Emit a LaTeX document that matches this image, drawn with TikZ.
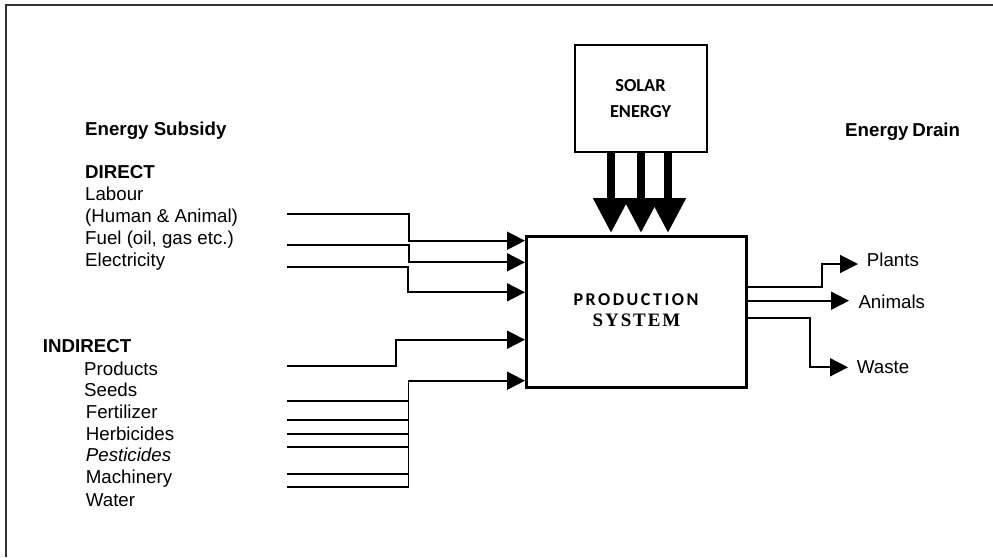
\documentclass[tikz,border=0pt]{standalone}
\usepackage{fontspec}
\setmainfont{Liberation Sans}
\newfontfamily\calibfont{Carlito}
\newfontfamily\prodfont[LetterSpace=14]{Carlito}
\newfontfamily\sysfont[LetterSpace=10]{Liberation Serif}
\usetikzlibrary{arrows.meta}
\tikzset{
  lbl/.style={anchor=base west, inner sep=0pt, font=\fontsize{18.7}{22}\selectfont},
  wire/.style={line width=1.8pt, -{Triangle[length=18pt,width=18pt]}},
  plainwire/.style={line width=1.8pt},
  sunarrow/.style={line width=8pt, -{Triangle[length=35pt,width=34pt]}},
}
\begin{document}
\begin{tikzpicture}[x=1pt,y=-1pt]
\useasboundingbox (0,0) rectangle (993,557);
% frame (top and left only)
\draw[line width=2pt,black!80] (993,5) -- (6,5) -- (6,557);

% boxes
\node[draw, line width=3pt, minimum width=220pt, minimum height=151pt, inner sep=0pt] (prod) at (636,311.5) {};
\node[draw, line width=2.5pt, minimum width=132pt, minimum height=107pt, inner sep=0pt] (solar) at (641,98.5) {};
\node[anchor=base, inner sep=0pt, font=\calibfont\bfseries\fontsize{18.3}{22}\selectfont] (solar1) at (640.5,91) {SOLAR};
\node[anchor=base, inner sep=0pt, font=\calibfont\bfseries\fontsize{18.3}{22}\selectfont] (solar2) at (640.5,117.3) {ENERGY};
\node[anchor=base, inner sep=0pt, font=\prodfont\bfseries\fontsize{18}{22}\selectfont] (prod1) at (636,305) {PRODUCTION};
\node[anchor=base, inner sep=0pt, font=\sysfont\bfseries\fontsize{19}{22}\selectfont] (prod2) at (636.5,326.7) {SYSTEM};

% solar arrows
\draw[sunarrow] ([xshift=-30pt]solar.south) -- ([xshift=-25pt,yshift=1.5pt]prod.north);
\draw[sunarrow] ([xshift=0pt]solar.south) -- ([xshift=5pt,yshift=1.5pt]prod.north);
\draw[sunarrow] ([xshift=27pt]solar.south) -- ([xshift=32pt,yshift=1.5pt]prod.north);

% left labels
\node[lbl, font=\bfseries\fontsize{18.7}{22}\selectfont] (subsidy) at (85,135.5) {Energy Subsidy};
\node[lbl, font=\bfseries\fontsize{18.7}{22}\selectfont] (direct) at (85,178) {DIRECT};
\node[lbl] (labour) at (85,200.7) {Labour};
\node[lbl] (human) at (85,222.7) {(Human \& Animal)};
\node[lbl] (fuel) at (85,244.3) {Fuel (oil, gas etc.)};
\node[lbl] (elec) at (85,266) {Electricity};
\node[lbl, font=\bfseries\fontsize{18.7}{22}\selectfont] (indirect) at (42.7,352.7) {INDIRECT};
\node[lbl] (products) at (84,375) {Products};
\node[lbl] (seeds) at (84,396.7) {Seeds};
\node[lbl] (fert) at (85.7,418.3) {Fertilizer};
\node[lbl] (herb) at (85.7,440) {Herbicides};
\node[lbl, font=\itshape\fontsize{18.7}{22}\selectfont] (pest) at (85.7,461.7) {Pesticides};
\node[lbl] (mach) at (85.7,483.5) {Machinery};
\node[lbl] (water) at (85.7,506) {Water};

% right labels
\node[lbl, font=\bfseries\fontsize{18.7}{22}\selectfont] (drain) at (845,136) {Energy\hspace{-1.5pt} Drain};
\node[lbl] (plants) at (866.7,266) {Plants};
\node[lbl] (animals) at (858.3,308.3) {Animals};
\node[lbl] (waste) at (856.7,373.3) {Waste};

% input wire ends
\coordinate (w1) at (287,214.3);
\coordinate (w2) at (287,245);
\coordinate (w3) at (287,267.3);
\coordinate (w4) at (287,366);
\coordinate (b1) at (287,401);
\coordinate (b2) at (287,420.3);
\coordinate (b3) at (287,433.7);
\coordinate (b4) at (287,447.3);
\coordinate (b5) at (287,474.3);
\coordinate (b6) at (287,486.7);
\coordinate (bus) at (408.5,486.7);
% entry points on production box
\coordinate (e1) at (525,240.7);
\coordinate (e2) at (525,262.3);
\coordinate (e3) at (525,292.3);
\coordinate (e4) at (525,339.7);
\coordinate (e5) at (525,380.7);

\draw[wire] (w1) -- (409,214.3) |- (e1);
\draw[wire] (w2) -- (409,245) |- (e2);
\draw[wire] (w3) -- (408,267.3) |- (e3);
\draw[wire] (w4) -- (396,366) |- (e4);
\draw[wire] (bus) |- (e5);
\foreach \b in {b1,b2,b3,b4,b5,b6} \draw[plainwire] (\b) -- (\b -| bus);

% outputs
\coordinate (o1) at (858,264);
\coordinate (o2) at (849,300.7);
\coordinate (o3) at (848,367.3);
\draw[wire] (prod.east |- 0,286.7) -- (821.7,286.7) |- (o1);
\draw[wire] (prod.east |- 0,300.7) -- (o2);
\draw[wire] (prod.east |- 0,318.3) -- (810,318.3) |- (o3);
\end{tikzpicture}
\end{document}
